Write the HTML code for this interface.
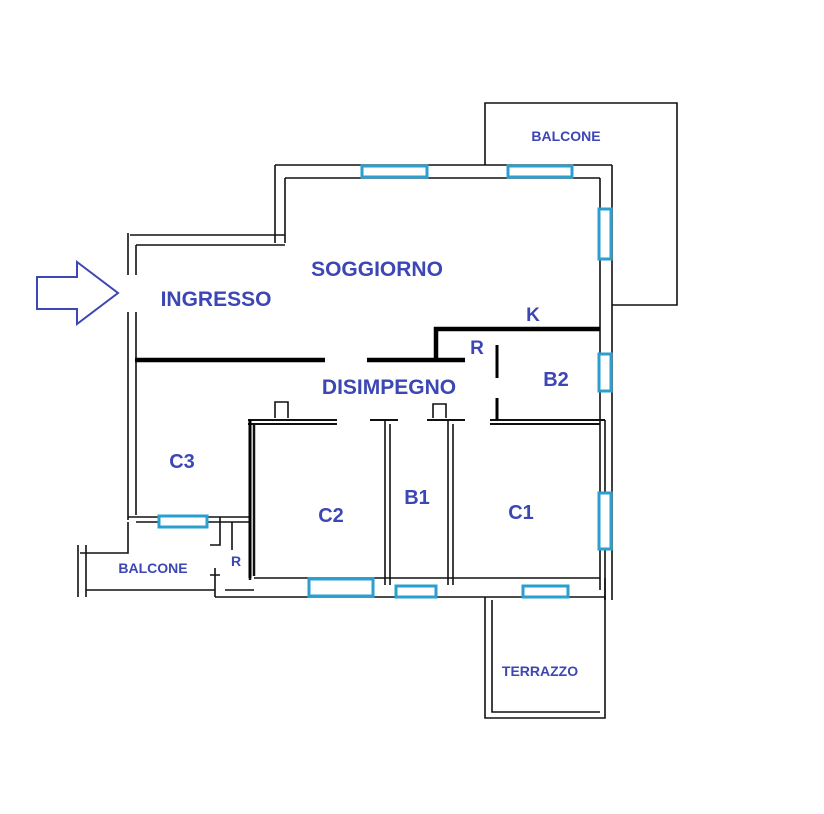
<!DOCTYPE html>
<html><head><meta charset="utf-8"><style>
html,body{margin:0;padding:0;background:#fff;}
svg{display:block}
text{font-family:"Liberation Sans",sans-serif;font-weight:bold;fill:#3c46b4;text-anchor:middle}
</style></head><body>
<svg width="824" height="814" viewBox="0 0 824 814" xmlns="http://www.w3.org/2000/svg">
<g stroke="#111" fill="none" stroke-width="1.6">
<!-- top balcone -->
<path d="M485 165 V103 H677 V305 H612"/>
<!-- top wall -->
<path d="M275 165 H612 M285 178 H600"/>
<path d="M275 165 V243 M285 178 V243"/>
<path d="M130 235 H285 M136 245 H285"/>
<!-- left wall -->
<path d="M128 233 V275 M136 245 V275 M128 312 V520 M136 312 V515"/>
<!-- right wall -->
<path d="M612 165 V600 M600 178 V590 M605 420 V600"/>
<!-- interior lines rooms -->
<path d="M248 420 H337 M248 424 H337 M370 420 H398 M427 420 H465 M490 420 H605 M490 424 H600" stroke-width="2"/>
<path d="M250 420 V580 M254 424 V576" stroke-width="2.5"/>
<path d="M385 420 V585 M390 424 V585 M448 420 V585 M453 424 V585"/>
<path d="M275 418 V402 H288 V418 M433 418 V404 H446 V418"/>
<!-- bottom exterior -->
<path d="M215 597 H605 M254 578 H600 M605 578 V600"/>
<!-- C3 bottom -->
<path d="M128 517 H250 M136 522 H250 M220 517 V545 H210 M232 522 V550"/>
<!-- lower balcone -->
<path d="M78 545 V597 M86 545 V597 M80 553 H128 V522 M86 590 H215 M215 568 V597 M210 575 H220 M225 590 H254"/>
<!-- terrazzo -->
<path d="M485 597 V718 H605 V597 M492 600 V712 H600"/>
</g>
<g stroke="#000" stroke-width="4.5" fill="none">
<path d="M135 360 H325 M367 360 H465"/>
<path d="M436 360 V329 H600"/>
<path d="M497 345 V378 M497 398 V420" stroke-width="3"/>
<path d="M250 420 V578" stroke-width="3"/>
</g>
<g fill="#fff" stroke="#2a9fd0" stroke-width="3">
<rect x="362" y="166" width="65" height="11"/>
<rect x="508" y="166" width="64" height="11"/>
<rect x="599" y="209" width="12" height="50"/>
<rect x="599" y="354" width="12" height="37"/>
<rect x="599" y="493" width="12" height="56"/>
<rect x="159" y="516" width="48" height="11"/>
<rect x="309" y="579" width="64" height="17"/>
<rect x="396" y="586" width="40" height="11"/>
<rect x="523" y="586" width="45" height="11"/>
</g>
<polygon points="37,277 77,277 77,262 118,293 77,324 77,309 37,309" fill="#fff" stroke="#3c46b4" stroke-width="2"/>
<text x="377" y="276" font-size="21">SOGGIORNO</text>
<text x="216" y="306" font-size="21">INGRESSO</text>
<text x="533" y="321" font-size="19">K</text>
<text x="477" y="354" font-size="19">R</text>
<text x="556" y="386" font-size="20">B2</text>
<text x="389" y="394" font-size="21">DISIMPEGNO</text>
<text x="182" y="468" font-size="20">C3</text>
<text x="331" y="522" font-size="20">C2</text>
<text x="417" y="504" font-size="20">B1</text>
<text x="521" y="519" font-size="20">C1</text>
<text x="153" y="573" font-size="14">BALCONE</text>
<text x="236" y="566" font-size="14">R</text>
<text x="566" y="141" font-size="14">BALCONE</text>
<text x="540" y="676" font-size="14">TERRAZZO</text>
</svg>
</body></html>
